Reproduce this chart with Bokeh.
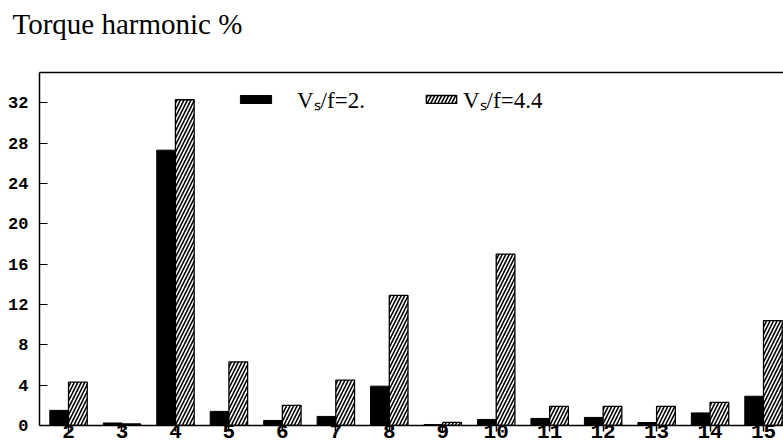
from bokeh.plotting import figure
from bokeh.models import (ColumnDataSource, Range1d, FixedTicker, LinearAxis,
                          Legend, LegendItem)
from bokeh.transform import dodge
from bokeh.embed import file_html
from bokeh.resources import INLINE

# ---- data ----
harmonics = [2, 3, 4, 5, 6, 7, 8, 9, 10, 11, 12, 13, 14, 15]
vf_2 = [1.5, 0.25, 27.3, 1.4, 0.5, 0.9, 3.9, 0.1, 0.6, 0.7, 0.8, 0.3, 1.25, 2.9]
vf_44 = [4.3, 0.15, 32.3, 6.3, 2.0, 4.5, 12.9, 0.3, 17.0, 1.9, 1.9, 1.9, 2.3, 10.4]
y_ticks = [0, 4, 8, 12, 16, 20, 24, 28, 32]
title_text = "Torque harmonic %"
label_a = "V\u209b/f=2."
label_b = "V\u209b/f=4.4"

src = ColumnDataSource(dict(h=harmonics, a=vf_2, b=vf_44))

p = figure(width=783, height=448, x_range=Range1d(1.457, 15.374), y_range=Range1d(0, 35),
           output_backend="svg", toolbar_location=None,
           min_border_left=39, min_border_right=0, min_border_bottom=23, min_border_top=72)
p.outline_line_color = None
p.xgrid.visible = False
p.ygrid.visible = False
p.background_fill_color = "white"

bw = 0.35
r1 = p.vbar(x=dodge("h", -bw / 2), top="a", width=bw, source=src,
            fill_color="black", line_color="black", line_width=1)
r2 = p.vbar(x=dodge("h", bw / 2), top="b", width=bw, source=src,
            fill_color="white", line_color="black", line_width=1.3,
            hatch_pattern="/", hatch_color="black", hatch_scale=7, hatch_weight=1.6)

# y axis
ya = p.yaxis[0]
ya.ticker = FixedTicker(ticks=y_ticks)
ya.major_tick_in = 8
ya.major_tick_out = 0
ya.minor_tick_in = 0
ya.minor_tick_out = 0
ya.axis_line_width = 1.5
ya.axis_line_color = "black"
ya.major_tick_line_color = "black"
ya.major_tick_line_width = 1.2
ya.major_label_standoff = 11
ya.major_label_text_font = "Liberation Mono"
ya.major_label_text_font_style = "bold"
ya.major_label_text_font_size = "17px"
ya.major_label_text_color = "black"

# x axis
xa = p.xaxis[0]
xa.ticker = FixedTicker(ticks=harmonics)
xa.major_tick_in = 0
xa.major_tick_out = 6
xa.minor_tick_in = 0
xa.minor_tick_out = 0
xa.axis_line_width = 1.5
xa.axis_line_color = "black"
xa.major_tick_line_color = "black"
xa.major_tick_line_width = 1.5
xa.major_label_standoff = -7
xa.major_label_text_font = "Liberation Mono"
xa.major_label_text_font_style = "bold"
xa.major_label_text_font_size = "21px"
xa.major_label_text_color = "black"

# top border
top_ax = LinearAxis(ticker=FixedTicker(ticks=[]),
                    major_tick_in=0, major_tick_out=0, minor_tick_in=0, minor_tick_out=0,
                    axis_line_width=1.5, axis_line_color="black")
p.add_layout(top_ax, "above")

# title
p.title.text = title_text
p.title.align = "left"
p.title.offset = -27
p.title.text_font = "Liberation Serif"
p.title.text_font_style = "normal"
p.title.text_font_size = "29px"
p.title.text_color = "black"
p.title.standoff = 10
p.title.padding = dict(top=0, right=0, bottom=28, left=0)

# legends
lg1 = Legend(items=[LegendItem(label=label_a, renderers=[r1])], location=(197, 310),
             glyph_width=39, glyph_height=10, label_standoff=22, padding=0, margin=0,
             border_line_color=None, background_fill_alpha=0,
             label_text_font="Liberation Serif", label_text_font_size="23px",
             label_text_color="black")
lg2 = Legend(items=[LegendItem(label=label_b, renderers=[r2])], location=(383, 310),
             glyph_width=38, glyph_height=10, label_standoff=3, padding=0, margin=0,
             border_line_color=None, background_fill_alpha=0,
             label_text_font="Liberation Serif", label_text_font_size="23px",
             label_text_color="black")
p.add_layout(lg1)
p.add_layout(lg2)

open("out.html", "w").write(file_html(p, INLINE))
